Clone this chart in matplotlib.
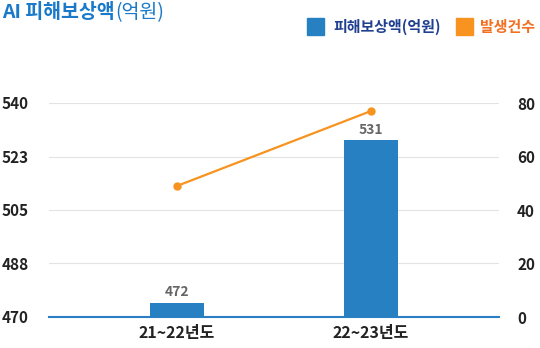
import matplotlib.pyplot as plt
import numpy as np

plt.rcParams['font.family'] = ['Noto Sans CJK KR', 'DejaVu Sans']

categories = ['21~22년도', '22~23년도']
damage = [472, 531]          # 피해보상액(억원)
cases = [49, 77]             # 발생건수
left_ticks = ['470', '488', '505', '523', '540']
right_ticks = [0, 20, 40, 60, 80]

bar_color = '#2680c2'
line_color = '#f7931e'

fig = plt.figure(figsize=(5.4, 3.48), dpi=100)
ax = fig.add_axes([49 / 540, 31 / 348, 450 / 540, 214 / 348])
ax2 = ax.twinx()

x = np.arange(len(categories))
ax.bar(x, damage, width=0.278, color=bar_color, zorder=3)
for xi, v in zip(x, damage):
    ax.text(xi, v + 1.3, str(v), ha='center', va='bottom', fontsize=10,
            fontweight='bold', color='#666666')

ymin, ymax = 466.8, 544.6
ax.set_ylim(ymin, ymax)
ax.set_yticks(np.linspace(ymin, ymax, 5))
ax.set_yticklabels(left_ticks)
ax.set_xlim(-0.66, 1.66)
ax.set_xticks(x)
ax.set_xticklabels(categories)

ax2.plot(x, cases, color=line_color, lw=1.6, marker='o', ms=5, zorder=4)
ax2.set_ylim(0, 80)
ax2.set_yticks(right_ticks)

ax.grid(axis='y', color='#e3e3e3', lw=0.8, zorder=0)
for a in (ax, ax2):
    for s in a.spines.values():
        s.set_visible(False)
    a.tick_params(length=0)
ax.spines['bottom'].set_visible(True)
ax.spines['bottom'].set_color('#2a7fc4')
ax.spines['bottom'].set_linewidth(1.5)
ax.set_zorder(2)
ax.patch.set_visible(False)
ax2.set_zorder(3)

for lab in ax.get_yticklabels():
    lab.set_fontsize(11)
    lab.set_fontweight('bold')
    lab.set_color('#222222')
    lab.set_horizontalalignment('left')
ax.tick_params(axis='y', pad=34)
for lab in ax2.get_yticklabels():
    lab.set_fontsize(11)
    lab.set_fontweight('bold')
    lab.set_color('#222222')
ax2.tick_params(axis='y', pad=13)
for lab in ax.get_xticklabels():
    lab.set_fontsize(11.5)
    lab.set_fontweight('bold')
    lab.set_color('#222222')
ax.tick_params(axis='x', pad=6)

# title
t1 = fig.text(2 / 540, 1 - 13 / 348, 'AI 피해보상액', fontsize=14, fontweight='bold',
              color='#1a7ac9', va='center', ha='left')
fig.canvas.draw()
bb = t1.get_window_extent()
fig.text(bb.x1 / 540 + 1 / 540, 1 - 13 / 348, '(억원)', fontsize=14, fontweight='medium',
         color='#1a7ac9', va='center', ha='left')

# legend
fig.patches.append(plt.Rectangle((307 / 540, 1 - 35 / 348), 17 / 540, 17 / 348,
                                 transform=fig.transFigure, color=bar_color))
fig.text(333 / 540, 1 - 27 / 348, '피해보상액(억원)', fontsize=10.8, fontweight='bold',
         color='#1f3f8f', va='center', ha='left')
fig.patches.append(plt.Rectangle((456 / 540, 1 - 35 / 348), 17 / 540, 17 / 348,
                                 transform=fig.transFigure, color=line_color))
fig.text(480 / 540, 1 - 27 / 348, '발생건수', fontsize=10.8, fontweight='bold',
         color='#f36f21', va='center', ha='left')

fig.savefig('out.png', dpi=100)
